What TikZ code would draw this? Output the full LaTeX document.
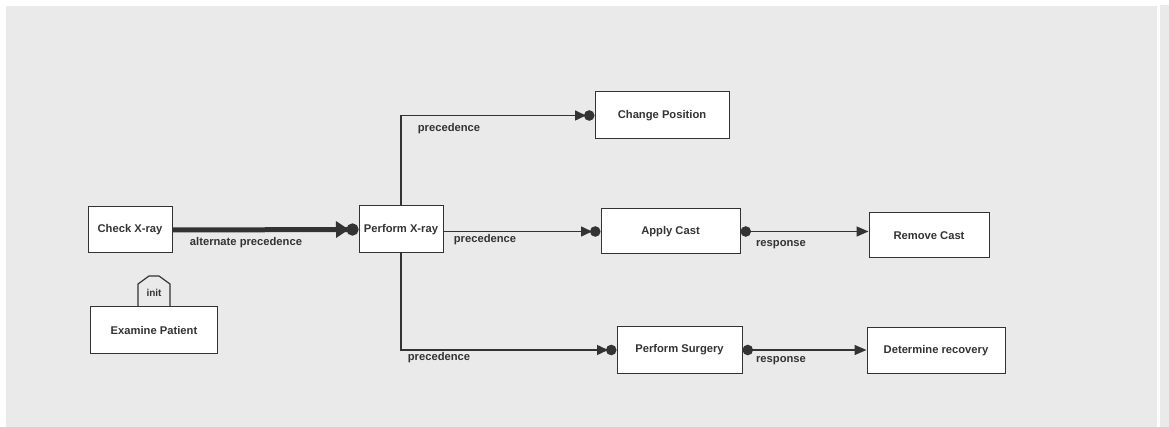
\documentclass[tikz,border=0pt]{standalone}
\usepackage{fontspec}
\setmainfont{Liberation Sans}
\usetikzlibrary{arrows.meta}
\definecolor{bg}{HTML}{EAEAEA}
\definecolor{ink}{HTML}{333333}
\tikzset{
  task/.style={draw=ink, line width=1pt, fill=white, rectangle, inner sep=0pt,
    font=\fontsize{11.2}{13}\selectfont\bfseries, text=ink},
  lbl/.style={font=\fontsize{11.2}{13}\selectfont\bfseries, text=ink, inner sep=0pt},
  conn/.style={draw=ink, line width=1.5pt},
  prec/.style={conn, -{Triangle[length=11pt,width=10pt,sep=-2pt] Circle[length=10.5pt,width=10.5pt]}},
  resp/.style={conn, {Circle[length=10.5pt,width=10.5pt]}-{Triangle[length=12pt,width=10pt]}},
  altprec/.style={draw=ink, line width=5pt, -{Triangle[length=13pt,width=16pt,sep=-2.5pt] Circle[length=12pt,width=12pt]}}
}
\begin{document}
\begin{tikzpicture}[x=1pt,y=-1pt]
\useasboundingbox (0,0) rectangle (1169,427);
\fill[white] (0,0) rectangle (1169,427);
\fill[bg] (6,6) rectangle (1157,427);
\fill[bg] (1160,5) rectangle (1169,427);

\node[task, minimum width=84pt, minimum height=46pt] (cx) at (130,230) {Check X-ray};
\node[task, minimum width=84pt, minimum height=47pt] (px) at (401,229.5) {Perform X-ray};
\node[task, minimum width=134pt, minimum height=47pt] (cp) at (662,115.5) {Change Position};
\node[task, minimum width=139pt, minimum height=45pt] (ac) at (670.5,231.5) {Apply Cast};
\node[task, minimum width=120pt, minimum height=45pt] (rc) at (929,235.5) {Remove Cast};
\node[task, minimum width=125pt, minimum height=46pt] (ps) at (679.5,350) {Perform Surgery};
\node[task, minimum width=138pt, minimum height=45pt] (dr) at (936,350.5) {Determine recovery};
\node[task, minimum width=127pt, minimum height=46pt] (ep) at (154,330) {Examine Patient};

% init marker
\draw[ink, line width=1.2pt] (ep.north -| 138,0) -- (138,284) -- (149,276) -- (159,276) -- (170,284) -- (ep.north -| 170,0);
\node[lbl, font=\fontsize{10}{12}\selectfont\bfseries] (init) at (154,293) {init};

% connectors
\draw[altprec] (cx.east) -- (px.west);
\draw[prec] (px.north) |- (cp.west);
\draw[prec] (px.east |- ac.west) -- (ac.west);
\draw[prec] (px.south) |- (ps.west);
\draw[resp] (ac.east) -- (ac.east -| rc.west);
\draw[resp] (ps.east) -- (ps.east -| dr.west);

% labels
\node[lbl] (l1) at (246,243) {alternate precedence};
\node[lbl] (l2) at (449,129) {precedence};
\node[lbl] (l3) at (485,240) {precedence};
\node[lbl] (l4) at (439,358) {precedence};
\node[lbl] (l5) at (781,245) {response};
\node[lbl] (l6) at (781,361) {response};
\end{tikzpicture}
\end{document}
